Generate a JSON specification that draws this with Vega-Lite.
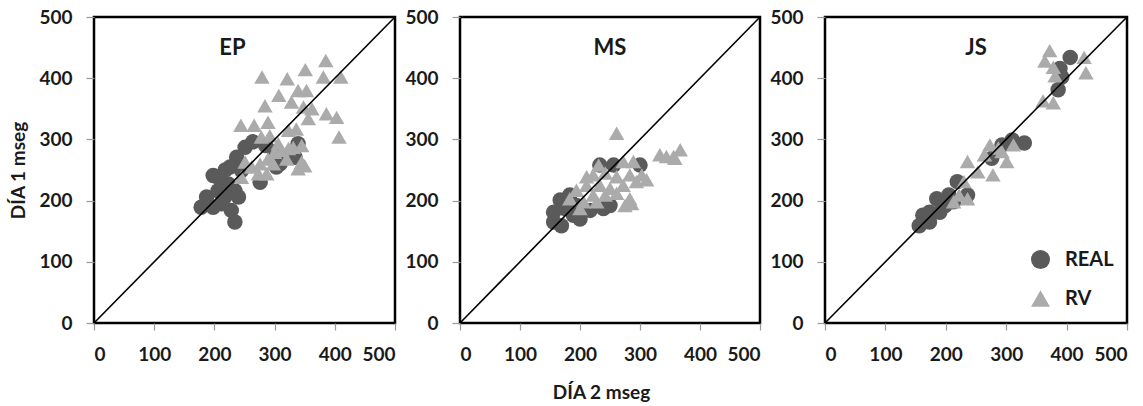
{
  "$schema": "https://vega.github.io/schema/vega-lite/v6.json",
  "padding": {"left": 8, "top": 6, "right": 8, "bottom": 4},
  "background": "white",
  "config": {
    "font": "Lato",
    "view": {"stroke": "black", "strokeWidth": 2.5},
    "axis": {
      "grid": false,
      "labelFont": "Lato", "labelFontWeight": "bold", "labelFontSize": 19, "labelColor": "#1a1a1a",
      "titleFont": "Lato", "titleFontWeight": "bold", "titleFontSize": 19, "titleColor": "#1a1a1a",
      "domain": false, "tickColor": "#999", "tickWidth": 1.2
    },
    "title": {"font": "Lato", "fontWeight": "bold", "fontSize": 22, "color": "#1a1a1a"},
    "legend": {"labelFont": "Lato", "labelFontWeight": "bold", "labelFontSize": 20, "labelColor": "#1a1a1a"}
  },
  "datasets": {
    "pts": [
      {"p":"EP","s":"REAL","x":178,"y":189},{"p":"EP","s":"REAL","x":198,"y":189},{"p":"EP","s":"REAL","x":187,"y":206},
      {"p":"EP","s":"REAL","x":206,"y":238},{"p":"EP","s":"REAL","x":206,"y":216},{"p":"EP","s":"REAL","x":223,"y":227},
      {"p":"EP","s":"REAL","x":234,"y":216},{"p":"EP","s":"REAL","x":217,"y":206},{"p":"EP","s":"REAL","x":240,"y":206},
      {"p":"EP","s":"REAL","x":228,"y":184},{"p":"EP","s":"REAL","x":234,"y":165},{"p":"EP","s":"REAL","x":212,"y":195},
      {"p":"EP","s":"REAL","x":237,"y":271},{"p":"EP","s":"REAL","x":251,"y":287},{"p":"EP","s":"REAL","x":264,"y":296},
      {"p":"EP","s":"REAL","x":245,"y":249},{"p":"EP","s":"REAL","x":276,"y":230},{"p":"EP","s":"REAL","x":303,"y":255},
      {"p":"EP","s":"REAL","x":309,"y":260},{"p":"EP","s":"REAL","x":334,"y":271},{"p":"EP","s":"REAL","x":339,"y":293},
      {"p":"EP","s":"REAL","x":198,"y":241},{"p":"EP","s":"REAL","x":226,"y":255},{"p":"EP","s":"REAL","x":218,"y":250},
      {"p":"EP","s":"REAL","x":285,"y":290},{"p":"EP","s":"REAL","x":300,"y":280},
      {"p":"EP","s":"RV","x":385,"y":429},{"p":"EP","s":"RV","x":279,"y":402},{"p":"EP","s":"RV","x":321,"y":399},
      {"p":"EP","s":"RV","x":351,"y":414},{"p":"EP","s":"RV","x":381,"y":402},{"p":"EP","s":"RV","x":410,"y":402},
      {"p":"EP","s":"RV","x":307,"y":372},{"p":"EP","s":"RV","x":284,"y":355},{"p":"EP","s":"RV","x":339,"y":380},
      {"p":"EP","s":"RV","x":353,"y":380},{"p":"EP","s":"RV","x":328,"y":361},{"p":"EP","s":"RV","x":348,"y":353},
      {"p":"EP","s":"RV","x":362,"y":350},{"p":"EP","s":"RV","x":386,"y":342},{"p":"EP","s":"RV","x":403,"y":336},
      {"p":"EP","s":"RV","x":356,"y":334},{"p":"EP","s":"RV","x":407,"y":304},{"p":"EP","s":"RV","x":244,"y":323},
      {"p":"EP","s":"RV","x":266,"y":323},{"p":"EP","s":"RV","x":289,"y":328},{"p":"EP","s":"RV","x":323,"y":315},
      {"p":"EP","s":"RV","x":336,"y":317},{"p":"EP","s":"RV","x":278,"y":304},{"p":"EP","s":"RV","x":292,"y":306},
      {"p":"EP","s":"RV","x":306,"y":293},{"p":"EP","s":"RV","x":323,"y":285},{"p":"EP","s":"RV","x":331,"y":287},
      {"p":"EP","s":"RV","x":345,"y":290},{"p":"EP","s":"RV","x":345,"y":263},{"p":"EP","s":"RV","x":350,"y":257},
      {"p":"EP","s":"RV","x":339,"y":252},{"p":"EP","s":"RV","x":300,"y":279},{"p":"EP","s":"RV","x":289,"y":268},
      {"p":"EP","s":"RV","x":276,"y":260},{"p":"EP","s":"RV","x":262,"y":255},{"p":"EP","s":"RV","x":251,"y":263},
      {"p":"EP","s":"RV","x":273,"y":244},{"p":"EP","s":"RV","x":287,"y":244},{"p":"EP","s":"RV","x":245,"y":238},
      {"p":"EP","s":"RV","x":312,"y":282},{"p":"EP","s":"RV","x":320,"y":268},{"p":"EP","s":"RV","x":298,"y":260},

      {"p":"MS","s":"REAL","x":156,"y":165},{"p":"MS","s":"REAL","x":169,"y":159},{"p":"MS","s":"REAL","x":167,"y":201},
      {"p":"MS","s":"REAL","x":175,"y":187},{"p":"MS","s":"REAL","x":189,"y":176},{"p":"MS","s":"REAL","x":200,"y":170},
      {"p":"MS","s":"REAL","x":217,"y":184},{"p":"MS","s":"REAL","x":239,"y":187},{"p":"MS","s":"REAL","x":250,"y":192},
      {"p":"MS","s":"REAL","x":183,"y":209},{"p":"MS","s":"REAL","x":256,"y":258},{"p":"MS","s":"REAL","x":233,"y":258},
      {"p":"MS","s":"REAL","x":300,"y":258},{"p":"MS","s":"REAL","x":194,"y":192},{"p":"MS","s":"REAL","x":156,"y":181},
      {"p":"MS","s":"RV","x":261,"y":310},{"p":"MS","s":"RV","x":333,"y":275},{"p":"MS","s":"RV","x":344,"y":272},
      {"p":"MS","s":"RV","x":356,"y":272},{"p":"MS","s":"RV","x":367,"y":283},{"p":"MS","s":"RV","x":358,"y":269},
      {"p":"MS","s":"RV","x":231,"y":258},{"p":"MS","s":"RV","x":272,"y":264},{"p":"MS","s":"RV","x":289,"y":264},
      {"p":"MS","s":"RV","x":222,"y":242},{"p":"MS","s":"RV","x":242,"y":245},{"p":"MS","s":"RV","x":261,"y":239},
      {"p":"MS","s":"RV","x":283,"y":242},{"p":"MS","s":"RV","x":303,"y":242},{"p":"MS","s":"RV","x":311,"y":234},
      {"p":"MS","s":"RV","x":211,"y":225},{"p":"MS","s":"RV","x":233,"y":225},{"p":"MS","s":"RV","x":250,"y":220},
      {"p":"MS","s":"RV","x":272,"y":225},{"p":"MS","s":"RV","x":294,"y":231},{"p":"MS","s":"RV","x":194,"y":217},
      {"p":"MS","s":"RV","x":222,"y":209},{"p":"MS","s":"RV","x":242,"y":209},{"p":"MS","s":"RV","x":261,"y":212},
      {"p":"MS","s":"RV","x":283,"y":203},{"p":"MS","s":"RV","x":275,"y":192},{"p":"MS","s":"RV","x":286,"y":195},
      {"p":"MS","s":"RV","x":183,"y":203},{"p":"MS","s":"RV","x":206,"y":198},{"p":"MS","s":"RV","x":200,"y":187},
      {"p":"MS","s":"RV","x":228,"y":198},{"p":"MS","s":"RV","x":211,"y":239},

      {"p":"JS","s":"REAL","x":406,"y":434},{"p":"JS","s":"REAL","x":389,"y":416},{"p":"JS","s":"REAL","x":392,"y":402},
      {"p":"JS","s":"REAL","x":386,"y":381},{"p":"JS","s":"REAL","x":330,"y":294},{"p":"JS","s":"REAL","x":310,"y":299},
      {"p":"JS","s":"REAL","x":293,"y":291},{"p":"JS","s":"REAL","x":219,"y":231},{"p":"JS","s":"REAL","x":205,"y":209},
      {"p":"JS","s":"REAL","x":185,"y":203},{"p":"JS","s":"REAL","x":199,"y":192},{"p":"JS","s":"REAL","x":213,"y":198},
      {"p":"JS","s":"REAL","x":190,"y":181},{"p":"JS","s":"REAL","x":173,"y":181},{"p":"JS","s":"REAL","x":162,"y":176},
      {"p":"JS","s":"REAL","x":156,"y":159},{"p":"JS","s":"REAL","x":173,"y":165},{"p":"JS","s":"REAL","x":236,"y":209},
      {"p":"JS","s":"REAL","x":276,"y":269},
      {"p":"JS","s":"RV","x":372,"y":445},{"p":"JS","s":"RV","x":364,"y":428},{"p":"JS","s":"RV","x":378,"y":418},
      {"p":"JS","s":"RV","x":381,"y":404},{"p":"JS","s":"RV","x":429,"y":434},{"p":"JS","s":"RV","x":432,"y":409},
      {"p":"JS","s":"RV","x":361,"y":363},{"p":"JS","s":"RV","x":378,"y":360},{"p":"JS","s":"RV","x":273,"y":291},
      {"p":"JS","s":"RV","x":264,"y":275},{"p":"JS","s":"RV","x":293,"y":280},{"p":"JS","s":"RV","x":301,"y":264},
      {"p":"JS","s":"RV","x":312,"y":291},{"p":"JS","s":"RV","x":236,"y":264},{"p":"JS","s":"RV","x":253,"y":247},
      {"p":"JS","s":"RV","x":278,"y":242},{"p":"JS","s":"RV","x":230,"y":231},{"p":"JS","s":"RV","x":222,"y":209},
      {"p":"JS","s":"RV","x":236,"y":203},{"p":"JS","s":"RV","x":213,"y":198},{"p":"JS","s":"RV","x":287,"y":286}
    ],
    "diag": [{"x0": 0, "y0": 0, "x1": 500, "y1": 500}]
  },
  "bounds": "flush",
  "spacing": 65,
  "resolve": {"scale": {"color": "independent", "shape": "independent"}},
  "hconcat": [
    {
      "width": 301, "height": 306,
      "title": {"text": "EP", "offset": -52, "dx": -12},
      "layer": [
        {
          "data": {"name": "pts"},
          "transform": [{"filter": "datum.p === 'EP'"}],
          "mark": {"type": "point", "filled": true, "opacity": 1, "size": 240},
          "encoding": {
            "x": {"field": "x", "type": "quantitative", "scale": {"domain": [0, 500], "nice": false}, "axis": {"values": [0,100,200,300,400,500], "title": null, "tickSize": 7, "labelPadding": 15}},
            "y": {"field": "y", "type": "quantitative", "scale": {"domain": [0, 500], "nice": false}, "axis": {"values": [0,100,200,300,400,500], "title": "DÍA 1 mseg", "tickSize": 8, "labelPadding": 14, "titlePadding": 10}},
            "color": {"field": "s", "type": "nominal", "scale": {"domain": ["REAL","RV"], "range": ["#5a5a5a","#ababab"]}, "legend": null},
            "shape": {"field": "s", "type": "nominal", "scale": {"domain": ["REAL","RV"], "range": ["circle","triangle-up"]}, "legend": null},
            "order": {"field": "s", "sort": "ascending"}
          }
        },
        {
          "data": {"name": "diag"},
          "mark": {"type": "rule", "color": "black", "strokeWidth": 1.6},
          "encoding": {"x": {"field": "x0", "type": "quantitative"}, "y": {"field": "y0", "type": "quantitative"}, "x2": {"field": "x1"}, "y2": {"field": "y1"}}
        }
      ]
    },
    {
      "width": 300, "height": 306,
      "title": {"text": "MS", "offset": -52, "dx": 0},
      "layer": [
        {
          "data": {"name": "pts"},
          "transform": [{"filter": "datum.p === 'MS'"}],
          "mark": {"type": "point", "filled": true, "opacity": 1, "size": 240},
          "encoding": {
            "x": {"field": "x", "type": "quantitative", "scale": {"domain": [0, 500], "nice": false}, "axis": {"values": [0,100,200,300,400,500], "title": "DÍA 2 mseg", "titleX": 141, "titlePadding": 19, "tickSize": 7, "labelPadding": 15}},
            "y": {"field": "y", "type": "quantitative", "scale": {"domain": [0, 500], "nice": false}, "axis": {"values": [0,100,200,300,400,500], "title": null, "tickSize": 8, "labelPadding": 14}},
            "color": {"field": "s", "type": "nominal", "scale": {"domain": ["REAL","RV"], "range": ["#5a5a5a","#ababab"]}, "legend": null},
            "shape": {"field": "s", "type": "nominal", "scale": {"domain": ["REAL","RV"], "range": ["circle","triangle-up"]}, "legend": null},
            "order": {"field": "s", "sort": "ascending"}
          }
        },
        {
          "data": {"name": "diag"},
          "mark": {"type": "rule", "color": "black", "strokeWidth": 1.6},
          "encoding": {"x": {"field": "x0", "type": "quantitative"}, "y": {"field": "y0", "type": "quantitative"}, "x2": {"field": "x1"}, "y2": {"field": "y1"}}
        }
      ]
    },
    {
      "width": 302, "height": 306,
      "title": {"text": "JS", "offset": -52, "dx": 0},
      "layer": [
        {
          "data": {"name": "pts"},
          "transform": [{"filter": "datum.p === 'JS'"}],
          "mark": {"type": "point", "filled": true, "opacity": 1, "size": 240},
          "encoding": {
            "x": {"field": "x", "type": "quantitative", "scale": {"domain": [0, 500], "nice": false}, "axis": {"values": [0,100,200,300,400,500], "title": null, "tickSize": 7, "labelPadding": 15}},
            "y": {"field": "y", "type": "quantitative", "scale": {"domain": [0, 500], "nice": false}, "axis": {"values": [0,100,200,300,400,500], "title": null, "tickSize": 8, "labelPadding": 14}},
            "color": {"field": "s", "type": "nominal", "scale": {"domain": ["REAL","RV"], "range": ["#5a5a5a","#ababab"]}, "legend": {"title": null, "orient": "bottom-right", "offset": 13, "symbolSize": 360, "rowPadding": 15, "labelOffset": 14, "symbolOpacity": 1}},
            "shape": {"field": "s", "type": "nominal", "scale": {"domain": ["REAL","RV"], "range": ["circle","triangle-up"]}, "legend": {"title": null, "orient": "bottom-right", "offset": 13, "symbolSize": 360, "rowPadding": 15, "labelOffset": 14, "symbolOpacity": 1}},
            "order": {"field": "s", "sort": "ascending"}
          }
        },
        {
          "data": {"name": "diag"},
          "mark": {"type": "rule", "color": "black", "strokeWidth": 1.6},
          "encoding": {"x": {"field": "x0", "type": "quantitative"}, "y": {"field": "y0", "type": "quantitative"}, "x2": {"field": "x1"}, "y2": {"field": "y1"}}
        }
      ]
    }
  ]
}
